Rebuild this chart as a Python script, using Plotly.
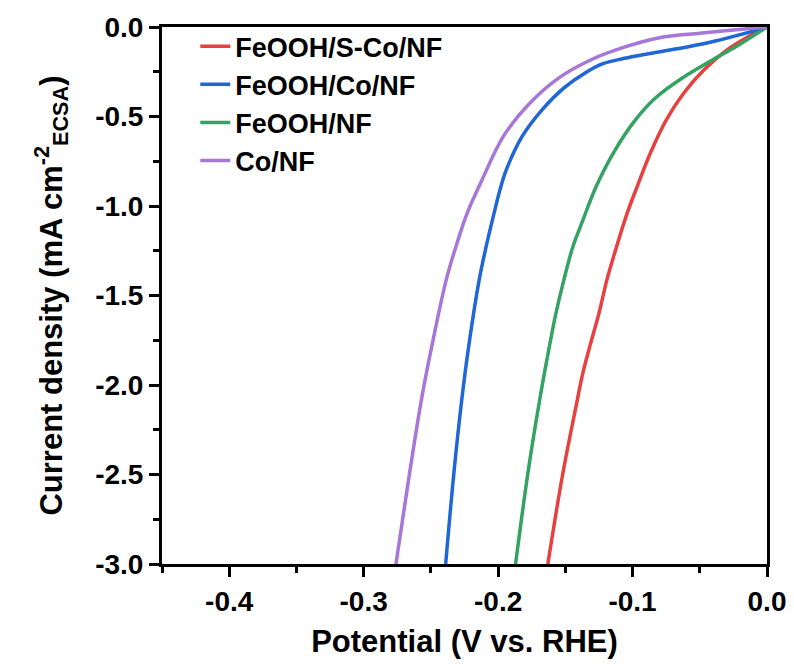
import plotly.graph_objects as go

# %% Data (potential in V vs. RHE, current density in mA cm-2 ECSA)
x_sco = [-0.163, -0.152, -0.141, -0.1375, -0.132, -0.125, -0.119, -0.112, -0.104, -0.0965,
         -0.0865, -0.075, -0.062, -0.047, -0.030, -0.014, 0.0]
y_sco = [-3.0, -2.5, -2.08, -1.95, -1.79, -1.60, -1.41, -1.23, -1.04, -0.89,
         -0.70, -0.52, -0.37, -0.24, -0.13, -0.055, 0.0]

x_co = [-0.239, -0.233, -0.227, -0.222, -0.214, -0.209, -0.203, -0.199, -0.194, -0.182,
        -0.167, -0.151, -0.135, -0.122, -0.106, -0.090, -0.067, -0.044, -0.022, 0.0]
y_co = [-3.0, -2.5, -2.08, -1.79, -1.41, -1.23, -1.04, -0.92, -0.80, -0.61,
        -0.46, -0.34, -0.255, -0.205, -0.175, -0.152, -0.122, -0.088, -0.047, 0.0]

x_fe = [-0.187, -0.178, -0.169, -0.162, -0.157, -0.151, -0.1445, -0.137, -0.127, -0.114,
        -0.098, -0.082, -0.062, -0.042, -0.021, 0.0]
y_fe = [-3.0, -2.5, -2.08, -1.79, -1.60, -1.41, -1.23, -1.08, -0.89, -0.70,
        -0.52, -0.39, -0.28, -0.19, -0.10, 0.0]

x_conf = [-0.276, -0.266, -0.257, -0.2495, -0.2385, -0.2315, -0.223, -0.212, -0.196, -0.177,
          -0.154, -0.130, -0.105, -0.080, -0.050, -0.025, 0.0]
y_conf = [-3.0, -2.5, -2.08, -1.79, -1.41, -1.23, -1.04, -0.855, -0.61, -0.43,
          -0.28, -0.18, -0.11, -0.06, -0.035, -0.017, 0.0]

names = ["FeOOH/S-Co/NF", "FeOOH/Co/NF", "FeOOH/NF", "Co/NF"]
colors = ["#e8403f", "#1f66d6", "#34a263", "#a676d9"]

x_ticks = [-0.4, -0.3, -0.2, -0.1, 0.0]
x_labels = ["-0.4", "-0.3", "-0.2", "-0.1", "0.0"]
y_ticks = [0.0, -0.5, -1.0, -1.5, -2.0, -2.5, -3.0]
y_labels = ["0.0", "-0.5", "-1.0", "-1.5", "-2.0", "-2.5", "-3.0"]

# %% Build figure
fig = go.Figure()
for xs, ys, name, col in zip([x_sco, x_co, x_fe, x_conf], [y_sco, y_co, y_fe, y_conf], names, colors):
    fig.add_trace(go.Scatter(x=xs, y=ys, mode="lines", name=name,
                             line=dict(color=col, width=3.5, shape="spline", smoothing=1.0)))

font_main = dict(family="Liberation Sans, Arial", color="black", weight="bold")

# page body adds 8px, so margins are shifted by that amount
fig.update_layout(width=794, height=668,
                  margin=dict(l=154, r=35, t=19, b=112),
                  plot_bgcolor="white", paper_bgcolor="white",
                  font=font_main,
                  legend=dict(x=0.055, y=1.009, xanchor="left", yanchor="top",
                              bgcolor="rgba(0,0,0,0)", tracegroupgap=0,
                              font=dict(size=27, **font_main)))

axis_style = dict(showline=True, mirror=True, linecolor="black", linewidth=3,
                  ticks="outside", ticklen=10, tickwidth=3, tickcolor="black",
                  showgrid=False, zeroline=False, automargin=False,
                  tickfont=dict(size=28, **font_main))

fig.update_xaxes(range=[-0.45, 0.0], tickvals=x_ticks, ticktext=x_labels,
                 minor=dict(ticks="outside", ticklen=6, tickwidth=3, tickcolor="black",
                            tickvals=[-0.45, -0.35, -0.25, -0.15, -0.05]),
                 title=dict(text="Potential (V vs. RHE)", font=dict(size=31, **font_main), standoff=15),
                 **axis_style)
fig.update_yaxes(range=[-3.0, 0.0], tickvals=y_ticks, ticktext=y_labels,
                 minor=dict(ticks="outside", ticklen=6, tickwidth=3, tickcolor="black",
                            tickvals=[-0.25, -0.75, -1.25, -1.75, -2.25, -2.75]),
                 title=dict(text="Current density (mA cm<sup>-2</sup><sub>ECSA</sub>)",
                            font=dict(size=31, **font_main), standoff=24),
                 **axis_style)

fig.write_html("out.html")
